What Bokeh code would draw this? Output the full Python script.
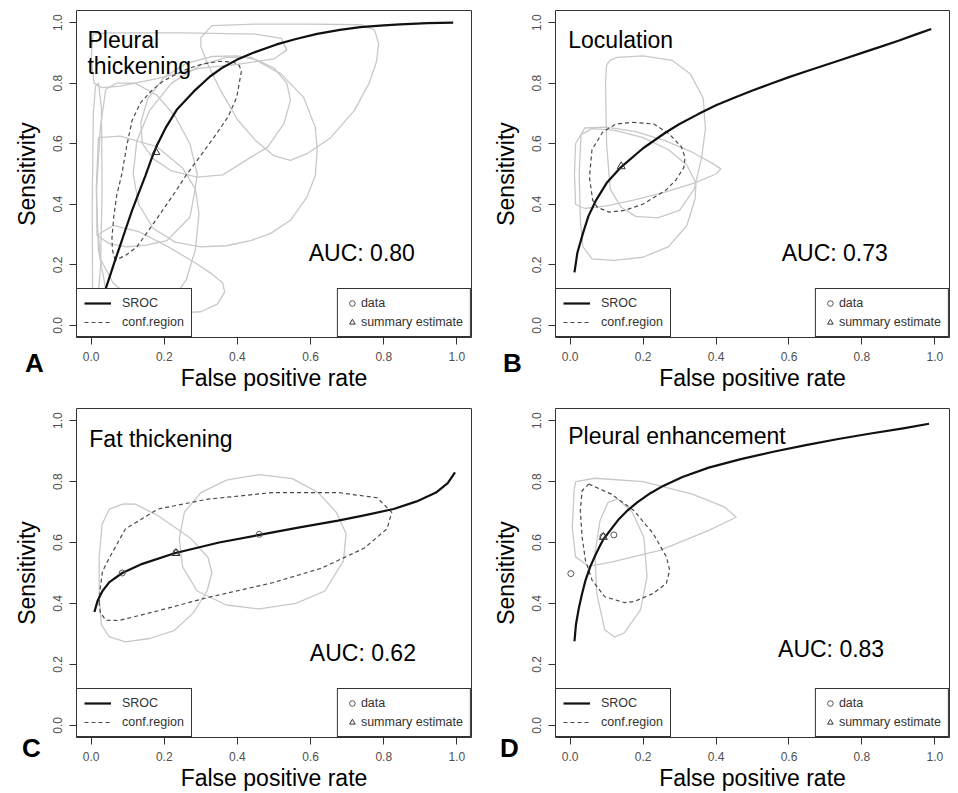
from bokeh.plotting import figure
from bokeh.models import Range1d, Label, Legend, LegendItem, FixedTicker, GridBox, Div
from bokeh.embed import file_html
from bokeh.resources import INLINE

FONT = "Liberation Sans"

tick_values = [0.0, 0.2, 0.4, 0.6, 0.8, 1.0]
tick_labels = ["0.0", "0.2", "0.4", "0.6", "0.8", "1.0"]
x_title = "False positive rate"
y_title = "Sensitivity"
legend_left_labels = ["SROC", "conf.region"]
legend_right_labels = ["data", "summary estimate"]
panel_letters = ["A", "B", "C", "D"]

# ---------------- Panel A : Pleural thickening ----------------
a_title = ["Pleural", "thickening"]
a_auc = "AUC: 0.80"
a_sroc_fpr = [0.038, 0.05, 0.064, 0.08, 0.095, 0.112, 0.13, 0.148, 0.165, 0.18, 0.205, 0.234, 0.28,
              0.325, 0.36, 0.398, 0.44, 0.507, 0.56, 0.618, 0.68, 0.736, 0.80, 0.845, 0.92, 0.99]
a_sroc_sens = [0.115, 0.158, 0.21, 0.266, 0.32, 0.38, 0.437, 0.493, 0.55, 0.595, 0.655, 0.712, 0.772,
               0.822, 0.852, 0.877, 0.899, 0.928, 0.946, 0.963, 0.976, 0.985, 0.991, 0.994, 0.998, 1.0]
a_conf_fpr = [0.066, 0.058, 0.057, 0.062, 0.07, 0.084, 0.097, 0.112, 0.135, 0.166, 0.195, 0.225, 0.265,
              0.307, 0.35, 0.389, 0.405, 0.411, 0.405, 0.398, 0.375, 0.343, 0.305, 0.262, 0.225, 0.189,
              0.155, 0.125, 0.095, 0.066]
a_conf_sens = [0.215, 0.25, 0.29, 0.36, 0.43, 0.50, 0.59, 0.677, 0.735, 0.776, 0.805, 0.825, 0.848,
               0.864, 0.872, 0.87, 0.858, 0.84, 0.80, 0.753, 0.69, 0.633, 0.57, 0.50, 0.432, 0.369,
               0.31, 0.259, 0.232, 0.215]
a_study_fpr = [
    [0.30, 0.33, 0.45, 0.60, 0.74, 0.775, 0.786, 0.78, 0.76, 0.72, 0.655, 0.59, 0.545, 0.50, 0.45, 0.40, 0.354, 0.32, 0.30, 0.30],
    [0.005, 0.05, 0.25, 0.45, 0.52, 0.535, 0.50, 0.40, 0.30, 0.18, 0.08, 0.03, 0.008, 0.0, 0.005],
    [0.545, 0.535, 0.50, 0.45, 0.40, 0.33, 0.26, 0.20, 0.155, 0.136, 0.14, 0.17, 0.22, 0.29, 0.36, 0.436, 0.482, 0.527, 0.545],
    [0.618, 0.613, 0.59, 0.545, 0.49, 0.436, 0.37, 0.30, 0.23, 0.17, 0.13, 0.115, 0.125, 0.16, 0.22, 0.30, 0.37, 0.436, 0.52, 0.581, 0.613, 0.618],
    [0.004, 0.003, 0.006, 0.012, 0.02, 0.028, 0.03, 0.026, 0.018, 0.01, 0.004],
    [0.02, 0.08, 0.18, 0.25, 0.285, 0.295, 0.285, 0.26, 0.22, 0.16, 0.09, 0.04, 0.02, 0.014, 0.02],
    [0.02, 0.06, 0.13, 0.21, 0.28, 0.33, 0.36, 0.365, 0.345, 0.30, 0.22, 0.13, 0.06, 0.025, 0.02],
    [0.04, 0.07, 0.12, 0.18, 0.23, 0.27, 0.29, 0.284, 0.27, 0.207, 0.15, 0.098, 0.05, 0.016, 0.015, 0.025, 0.04],
]
a_study_sens = [
    [0.95, 0.99, 0.995, 0.995, 0.993, 0.975, 0.93, 0.87, 0.80, 0.71, 0.62, 0.567, 0.545, 0.56, 0.61, 0.68, 0.776, 0.86, 0.92, 0.95],
    [0.962, 0.966, 0.966, 0.962, 0.948, 0.91, 0.88, 0.862, 0.85, 0.815, 0.79, 0.785, 0.80, 0.88, 0.962],
    [0.743, 0.80, 0.85, 0.878, 0.89, 0.888, 0.865, 0.82, 0.75, 0.67, 0.60, 0.55, 0.51, 0.49, 0.497, 0.555, 0.588, 0.666, 0.743],
    [0.578, 0.495, 0.424, 0.347, 0.303, 0.28, 0.263, 0.259, 0.275, 0.32, 0.40, 0.50, 0.61, 0.71, 0.80, 0.86, 0.885, 0.886, 0.83, 0.753, 0.654, 0.578],
    [0.12, 0.40, 0.70, 0.79, 0.80, 0.72, 0.45, 0.20, 0.08, 0.06, 0.12],
    [0.62, 0.625, 0.59, 0.52, 0.45, 0.37, 0.25, 0.15, 0.08, 0.05, 0.06, 0.12, 0.25, 0.45, 0.62],
    [0.30, 0.33, 0.31, 0.26, 0.21, 0.17, 0.14, 0.11, 0.07, 0.045, 0.04, 0.07, 0.14, 0.22, 0.30],
    [0.78, 0.80, 0.80, 0.76, 0.69, 0.60, 0.50, 0.446, 0.357, 0.28, 0.265, 0.259, 0.27, 0.297, 0.45, 0.65, 0.78],
]
a_data_fpr = []
a_data_sens = []
a_sum_fpr = [0.177]
a_sum_sens = [0.572]

# ---------------- Panel B : Loculation ----------------
b_title = ["Loculation"]
b_auc = "AUC: 0.73"
b_sroc_fpr = [0.012, 0.02, 0.035, 0.05, 0.071, 0.10, 0.139, 0.2, 0.262, 0.30, 0.35, 0.40, 0.45, 0.50,
              0.55, 0.60, 0.65, 0.70, 0.75, 0.80, 0.85, 0.90, 0.95, 0.99]
b_sroc_sens = [0.175, 0.24, 0.303, 0.36, 0.413, 0.47, 0.522, 0.585, 0.637, 0.665, 0.697, 0.727, 0.752, 0.776,
               0.798, 0.82, 0.84, 0.86, 0.88, 0.90, 0.92, 0.94, 0.962, 0.979]
b_conf_fpr = [0.171, 0.23, 0.271, 0.305, 0.315, 0.312, 0.29, 0.262, 0.199, 0.15, 0.107, 0.075, 0.062,
              0.053, 0.06, 0.089, 0.125, 0.171]
b_conf_sens = [0.671, 0.665, 0.633, 0.59, 0.555, 0.522, 0.48, 0.446, 0.40, 0.38, 0.374, 0.39, 0.413,
               0.489, 0.58, 0.638, 0.665, 0.671]
b_study_fpr = [
    [0.097, 0.10, 0.11, 0.13, 0.2, 0.28, 0.33, 0.365, 0.371, 0.36, 0.34, 0.30, 0.24, 0.18, 0.14, 0.11, 0.10, 0.097],
    [0.015, 0.04, 0.10, 0.18, 0.26, 0.33, 0.39, 0.413, 0.40, 0.34, 0.26, 0.18, 0.10, 0.04, 0.015, 0.012, 0.015],
    [0.03, 0.06, 0.12, 0.2, 0.27, 0.32, 0.345, 0.343, 0.32, 0.27, 0.2, 0.12, 0.06, 0.035, 0.028, 0.025, 0.03],
]
b_study_sens = [
    [0.80, 0.86, 0.876, 0.885, 0.89, 0.875, 0.83, 0.75, 0.65, 0.55, 0.45, 0.38, 0.355, 0.36, 0.39, 0.45, 0.6, 0.80],
    [0.60, 0.652, 0.655, 0.64, 0.61, 0.575, 0.535, 0.517, 0.50, 0.47, 0.44, 0.415, 0.395, 0.386, 0.40, 0.5, 0.60],
    [0.63, 0.65, 0.645, 0.62, 0.58, 0.53, 0.47, 0.42, 0.33, 0.26, 0.225, 0.215, 0.22, 0.26, 0.35, 0.50, 0.63],
]
b_data_fpr = []
b_data_sens = []
b_sum_fpr = [0.14]
b_sum_sens = [0.525]

# ---------------- Panel C : Fat thickening ----------------
c_title = ["Fat thickening"]
c_auc = "AUC: 0.62"
c_sroc_fpr = [0.009, 0.018, 0.031, 0.05, 0.085, 0.14, 0.228, 0.35, 0.46, 0.57, 0.675, 0.75, 0.827,
              0.89, 0.943, 0.975, 0.995]
c_sroc_sens = [0.372, 0.41, 0.441, 0.47, 0.50, 0.53, 0.565, 0.60, 0.625, 0.65, 0.672, 0.69, 0.71,
               0.735, 0.764, 0.795, 0.83]
c_conf_fpr = [0.022, 0.025, 0.031, 0.049, 0.094, 0.183, 0.317, 0.496, 0.675, 0.782, 0.822, 0.809,
              0.746, 0.63, 0.496, 0.317, 0.183, 0.076, 0.04, 0.025, 0.022]
c_conf_sens = [0.40, 0.45, 0.505, 0.548, 0.645, 0.71, 0.742, 0.764, 0.764, 0.747, 0.699, 0.645,
               0.581, 0.516, 0.468, 0.419, 0.376, 0.344, 0.345, 0.37, 0.40]
c_study_fpr = [
    [0.088, 0.121, 0.183, 0.273, 0.32, 0.33, 0.317, 0.28, 0.228, 0.16, 0.094, 0.05, 0.028, 0.022, 0.022, 0.03, 0.05, 0.088],
    [0.46, 0.55, 0.621, 0.67, 0.697, 0.69, 0.639, 0.56, 0.46, 0.37, 0.29, 0.25, 0.241, 0.255, 0.30, 0.37, 0.46],
]
c_study_sens = [
    [0.727, 0.726, 0.688, 0.613, 0.55, 0.50, 0.441, 0.37, 0.312, 0.285, 0.274, 0.29, 0.33, 0.42, 0.55, 0.66, 0.71, 0.727],
    [0.823, 0.81, 0.764, 0.70, 0.63, 0.54, 0.441, 0.40, 0.382, 0.395, 0.441, 0.52, 0.613, 0.70, 0.764, 0.805, 0.823],
]
c_data_fpr = [0.085, 0.232, 0.46]
c_data_sens = [0.50, 0.567, 0.627]
c_sum_fpr = [0.232]
c_sum_sens = [0.565]

# ---------------- Panel D : Pleural enhancement ----------------
d_title = ["Pleural enhancement"]
d_auc = "AUC: 0.83"
d_sroc_fpr = [0.012, 0.016, 0.024, 0.033, 0.042, 0.055, 0.068, 0.08, 0.091, 0.113, 0.131, 0.157, 0.184,
              0.22, 0.255, 0.308, 0.38, 0.468, 0.557, 0.646, 0.735, 0.824, 0.913, 0.984]
d_sroc_sens = [0.276, 0.33, 0.385, 0.433, 0.475, 0.52, 0.555, 0.585, 0.61, 0.645, 0.673, 0.705, 0.732,
               0.762, 0.786, 0.815, 0.846, 0.874, 0.898, 0.92, 0.94, 0.958, 0.975, 0.99]
d_conf_fpr = [0.051, 0.113, 0.175, 0.228, 0.264, 0.273, 0.264, 0.228, 0.175, 0.148, 0.095, 0.06, 0.042,
              0.033, 0.028, 0.033, 0.051]
d_conf_sens = [0.792, 0.759, 0.705, 0.629, 0.553, 0.509, 0.466, 0.433, 0.406, 0.403, 0.422, 0.477, 0.542,
               0.618, 0.705, 0.77, 0.792]
d_study_fpr = [
    [0.015, 0.068, 0.2, 0.335, 0.424, 0.455, 0.38, 0.246, 0.113, 0.051, 0.015, 0.006, 0.011, 0.015],
    [0.131, 0.17, 0.202, 0.211, 0.193, 0.148, 0.122, 0.095, 0.073, 0.068, 0.082, 0.104, 0.131],
]
d_study_sens = [
    [0.80, 0.811, 0.80, 0.759, 0.716, 0.683, 0.64, 0.574, 0.536, 0.522, 0.553, 0.65, 0.77, 0.80],
    [0.743, 0.70, 0.618, 0.488, 0.379, 0.303, 0.29, 0.314, 0.433, 0.564, 0.672, 0.732, 0.743],
]
d_data_fpr = [0.002, 0.12, 0.09]
d_data_sens = [0.498, 0.625, 0.62]
d_sum_fpr = [0.091]
d_sum_sens = [0.618]


def make_panel(width, height, bl, br, bt, bb, title_lines, title_x, title_ys, auc, auc_x, auc_y,
               sroc_x, sroc_y, conf_x, conf_y, st_x, st_y, dat_x, dat_y, sum_x, sum_y):
    p = figure(width=width, height=height, x_range=Range1d(-0.04, 1.04), y_range=Range1d(-0.04, 1.04),
               output_backend="svg", toolbar_location=None,
               min_border_left=bl, min_border_right=br, min_border_top=bt, min_border_bottom=bb,
               background_fill_color="white", border_fill_color="white")
    p.grid.visible = False
    p.outline_line_color = "#333333"
    p.outline_line_width = 1
    p.outline_line_alpha = 1.0

    p.multi_line(xs=st_x, ys=st_y, line_color="#c8c8c8", line_width=1.3, line_join="round")
    conf = p.line(conf_x, conf_y, line_color="#4a4a4a", line_width=1.2, line_dash="4 3")
    sroc = p.line(sroc_x, sroc_y, line_color="#111111", line_width=2.2, line_join="round")
    p.scatter(dat_x, dat_y, marker="circle", size=6, line_color="#555555", fill_color=None, line_width=1)
    summ = p.scatter(sum_x, sum_y, marker="triangle", size=8, line_color="#333333", fill_color=None, line_width=1)
    # legend key for the "data" symbol (hidden renderer, only its legend glyph is drawn)
    dat_key = p.scatter(sum_x, sum_y, marker="circle", size=6, line_color="#555555", fill_color=None,
                        line_width=1, visible=False)

    overrides = dict(zip(tick_values, tick_labels))
    for ax in (p.xaxis[0], p.yaxis[0]):
        ax.ticker = FixedTicker(ticks=tick_values)
        ax.major_label_overrides = overrides
        ax.bounds = (0, 1)
        ax.major_tick_out = 7
        ax.major_tick_in = 0
        ax.minor_tick_line_color = None
        ax.axis_line_color = "#333333"
        ax.major_tick_line_color = "#333333"
        ax.major_label_text_font = FONT
        ax.major_label_text_font_size = "12px"
        ax.major_label_text_color = "#505050"
        ax.major_label_standoff = 7
        ax.axis_label_text_font = FONT
        ax.axis_label_text_font_size = "23px"
        ax.axis_label_text_font_style = "normal"
        ax.axis_label_text_color = "#000000"
    p.xaxis.axis_label = x_title
    p.xaxis.axis_label_standoff = 1
    p.yaxis.axis_label = y_title
    p.yaxis.axis_label_standoff = 11
    p.yaxis.major_label_orientation = "vertical"

    common = dict(margin=0, padding=7, spacing=5, glyph_height=14, label_height=14,
                  label_text_font=FONT, label_text_font_size="12.5px", label_text_color="#333333",
                  border_line_color="#333333", border_line_width=1, border_line_alpha=1.0,
                  background_fill_color="white", background_fill_alpha=1.0)
    leg1 = Legend(items=[LegendItem(label=legend_left_labels[0], renderers=[sroc]),
                         LegendItem(label=legend_left_labels[1], renderers=[conf])],
                  location="bottom_left", glyph_width=27, label_standoff=11, **common)
    leg2 = Legend(items=[LegendItem(label=legend_right_labels[0], renderers=[dat_key]),
                         LegendItem(label=legend_right_labels[1], renderers=[summ])],
                  location="bottom_right", glyph_width=14, label_standoff=2, **common)
    p.add_layout(leg1)
    p.add_layout(leg2)

    for txt, ty in zip(title_lines, title_ys):
        p.add_layout(Label(x=title_x, y=ty, text=txt, text_font=FONT, text_font_size="23px",
                           text_color="#000000", text_baseline="alphabetic"))
    p.add_layout(Label(x=auc_x, y=auc_y, text=auc, text_font=FONT, text_font_size="23px",
                       text_color="#000000", text_baseline="alphabetic"))
    return p


pA = make_panel(478, 395, 76, 7, 10, 58, a_title, -0.01, [0.944, 0.858], a_auc, 0.595, 0.24,
                a_sroc_fpr, a_sroc_sens, a_conf_fpr, a_conf_sens,
                a_study_fpr, a_study_sens, a_data_fpr, a_data_sens, a_sum_fpr, a_sum_sens)
pB = make_panel(480, 395, 77, 9, 10, 58, b_title, -0.005, [0.944], b_auc, 0.58, 0.24,
                b_sroc_fpr, b_sroc_sens, b_conf_fpr, b_conf_sens,
                b_study_fpr, b_study_sens, b_data_fpr, b_data_sens, b_sum_fpr, b_sum_sens)
pC = make_panel(478, 398, 72, 3, 8, 56, c_title, -0.005, [0.941], c_auc, 0.598, 0.236,
                c_sroc_fpr, c_sroc_sens, c_conf_fpr, c_conf_sens,
                c_study_fpr, c_study_sens, c_data_fpr, c_data_sens, c_sum_fpr, c_sum_sens)
pD = make_panel(480, 398, 77, 4, 13, 56, d_title, -0.005, [0.949], d_auc, 0.57, 0.249,
                d_sroc_fpr, d_sroc_sens, d_conf_fpr, d_conf_sens,
                d_study_fpr, d_study_sens, d_data_fpr, d_data_sens, d_sum_fpr, d_sum_sens)

letter_style = {"font-family": "'Liberation Sans', Arial, sans-serif", "font-size": "26px",
                "font-weight": "bold", "color": "#000000", "line-height": "1", "pointer-events": "none"}
# (margin-top, margin-left) of each panel letter inside its grid cell
letter_margins = [(350, 25), (350, 25), (340, 22), (340, 22)]
letters = [Div(text=t, width=30, height=30, margin=(mt, 0, 0, ml), styles=letter_style)
           for t, (mt, ml) in zip(panel_letters, letter_margins)]

grid = GridBox(children=[(pA, 0, 0), (pB, 0, 1), (pC, 1, 0), (pD, 1, 1),
                         (letters[0], 0, 0), (letters[1], 0, 1), (letters[2], 1, 0), (letters[3], 1, 1)])
open("out.html", "w").write(file_html(grid, INLINE))
